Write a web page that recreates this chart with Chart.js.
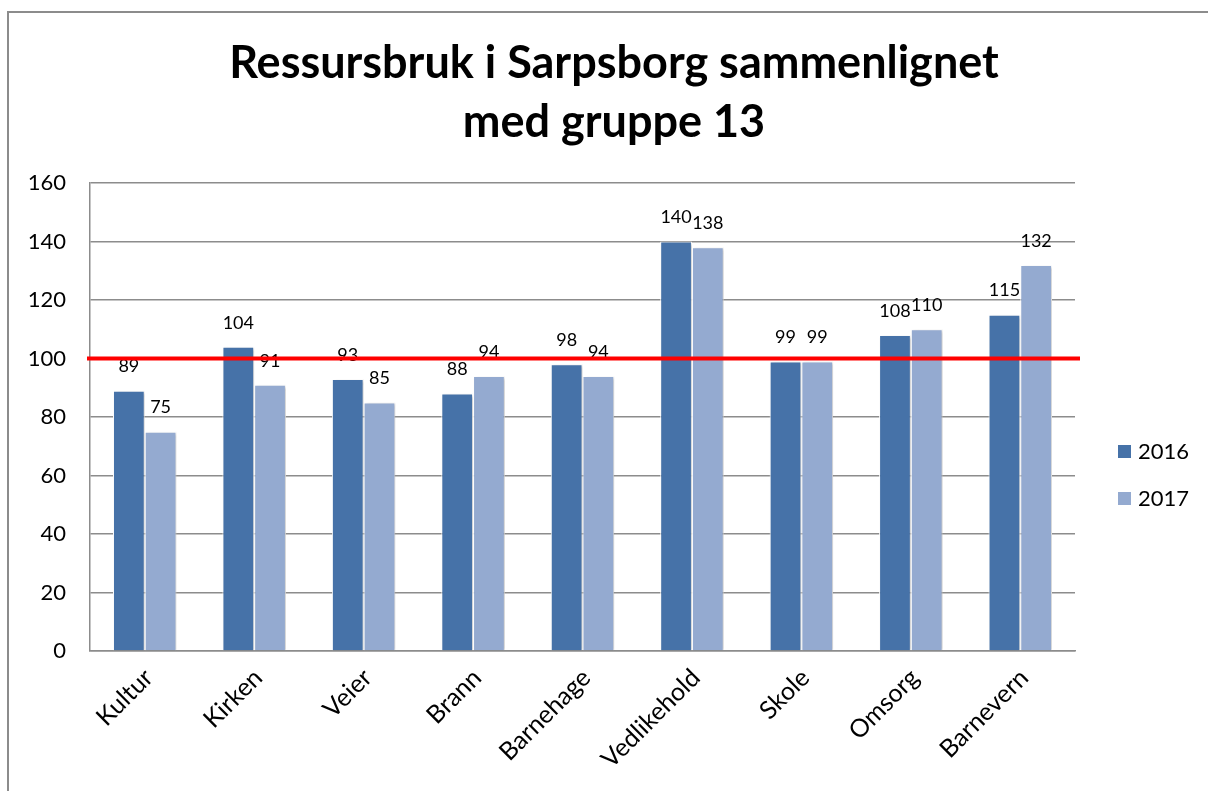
<!DOCTYPE html>
<html>
<head>
<meta charset="utf-8">
<script src="https://cdn.jsdelivr.net/npm/chart.js@4.4.0/dist/chart.umd.min.js"></script>
<style>
  html, body { margin: 0; padding: 0; background: #fff; }
  #wrap { position: relative; width: 1208px; height: 791px; }
</style>
</head>
<body>
<div id="wrap"><canvas id="c" width="1208" height="791"></canvas></div>
<script>
const categories = ["Kultur", "Kirken", "Veier", "Brann", "Barnehage", "Vedlikehold", "Skole", "Omsorg", "Barnevern"];
const values2016 = [89, 104, 93, 88, 98, 140, 99, 108, 115];
const values2017 = [75, 91, 85, 94, 94, 138, 99, 110, 132];
const seriesNames = ["2016", "2017"];
const yTicks = [0, 20, 40, 60, 80, 100, 120, 140, 160];
const referenceValue = 100;
const titleLines = ["Ressursbruk i Sarpsborg sammenlignet", "med gruppe 13"];

const colors = ["#4672A8", "#94AAD0"];

const framePlugin = {
  id: 'frame',
  beforeDraw(chart) {
    const ctx = chart.ctx;
    ctx.save();
    ctx.fillStyle = '#fff';
    ctx.fillRect(0, 0, chart.width, chart.height);
    ctx.strokeStyle = '#8c8c8c';
    ctx.lineWidth = 2;
    ctx.strokeRect(8, 12, chart.width + 20, chart.height + 20);
    // title
    ctx.fillStyle = '#000';
    ctx.font = 'bold 45px Lato';
    ctx.textAlign = 'center';
    ctx.textBaseline = 'alphabetic';
    ctx.fillText(titleLines[0], 614, 78);
    ctx.fillText(titleLines[1], 614, 137);
    ctx.restore();
  }
};

const shadowPlugin = {
  id: 'shadow',
  beforeDatasetsDraw(chart) {
    const ctx = chart.ctx;
    ctx.save();
    ctx.shadowColor = 'rgba(0,0,0,0.22)';
    ctx.shadowBlur = 3;
    ctx.shadowOffsetX = 2;
    ctx.shadowOffsetY = 1;
  },
  afterDatasetsDraw(chart) {
    chart.ctx.restore();
  }
};

const overlayPlugin = {
  id: 'overlay',
  afterDraw(chart) {
    const ctx = chart.ctx;
    const ys = chart.scales.y;
    const area = chart.chartArea;
    ctx.save();
    // data labels
    ctx.fillStyle = '#000';
    ctx.font = '18px Lato';
    ctx.textAlign = 'center';
    ctx.textBaseline = 'middle';
    chart.data.datasets.forEach((ds, di) => {
      const meta = chart.getDatasetMeta(di);
      meta.data.forEach((bar, i) => {
        ctx.fillText(String(ds.data[i]), bar.x, bar.y - 24);
      });
    });
    // reference line
    const yr = ys.getPixelForValue(referenceValue);
    ctx.strokeStyle = '#ff0000';
    ctx.lineWidth = 4;
    ctx.beginPath();
    ctx.moveTo(area.left - 3, yr);
    ctx.lineTo(area.right + 5, yr);
    ctx.stroke();
    // legend
    const legY = [451, 498];
    ctx.font = '22px Lato';
    ctx.textAlign = 'left';
    seriesNames.forEach((name, i) => {
      ctx.fillStyle = colors[i];
      ctx.fillRect(1118, legY[i] - 6, 13, 13);
      ctx.fillStyle = '#000';
      ctx.fillText(name, 1138, legY[i] + 1);
    });
    ctx.restore();
  }
};

new Chart(document.getElementById('c'), {
  type: 'bar',
  data: {
    labels: categories,
    datasets: [
      { label: seriesNames[0], data: values2016, backgroundColor: colors[0], borderColor: '#ffffff', borderWidth: 1 },
      { label: seriesNames[1], data: values2017, backgroundColor: colors[1], borderColor: '#ffffff', borderWidth: 1 }
    ]
  },
  options: {
    responsive: false,
    animation: false,
    devicePixelRatio: 1,
    layout: { padding: { top: 183, right: 133, bottom: 0, left: 0 } },
    categoryPercentage: 0.58,
    barPercentage: 1.0,
    plugins: {
      legend: { display: false },
      title: { display: false },
      tooltip: { enabled: false }
    },
    scales: {
      x: {
        grid: { display: false, drawTicks: false },
        border: { display: true, color: '#8c8c8c', width: 1.5 },
        ticks: {
          color: '#000',
          font: { family: 'Lato', size: 25 },
          minRotation: 45,
          maxRotation: 45,
          padding: 12,
          labelOffset: 4
        },
        afterFit(scale) { scale.height = 140; }
      },
      y: {
        min: 0,
        max: 160,
        afterBuildTicks(scale) { scale.ticks = yTicks.map(v => ({ value: v })); },
        grid: { color: '#8c8c8c', lineWidth: 1.5, drawTicks: false },
        border: { display: true, color: '#8c8c8c', width: 1.5 },
        ticks: {
          color: '#000',
          font: { family: 'Lato', size: 22 },
          padding: 24
        },
        afterFit(scale) { scale.width = 90; }
      }
    }
  },
  plugins: [framePlugin, shadowPlugin, overlayPlugin]
});
</script>
</body>
</html>
